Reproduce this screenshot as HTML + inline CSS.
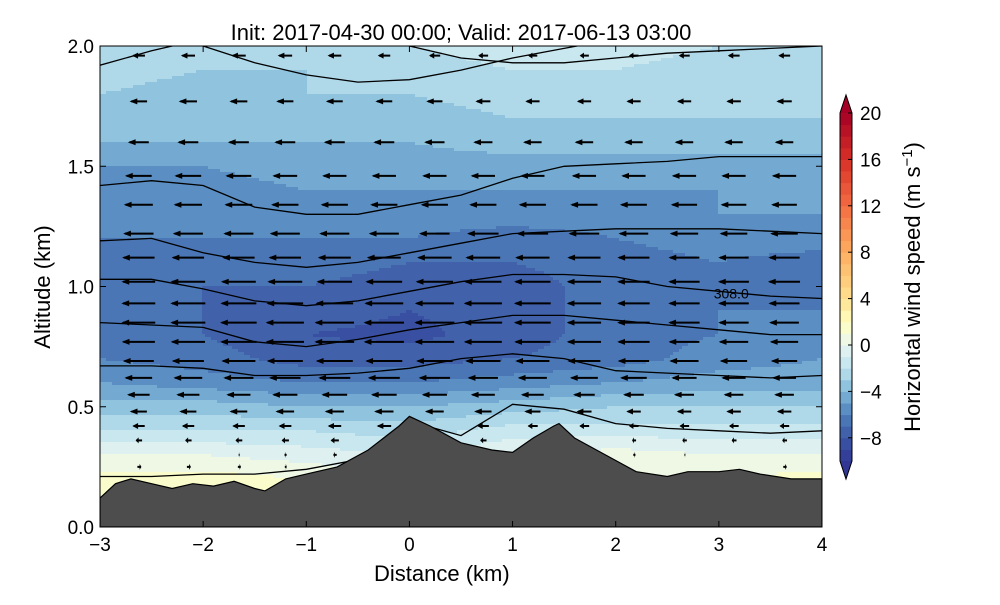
<!DOCTYPE html>
<html><head><meta charset="utf-8">
<style>
body{margin:0;background:#fff;}
svg text{font-family:"Liberation Sans",sans-serif;fill:#000;}
</style></head>
<body>
<svg id="chart" width="1000" height="600" viewBox="0 0 1000 600">
<defs><clipPath id="plotclip"><rect x="100" y="46" width="722" height="481"/></clipPath></defs>
<text x="461" y="40" font-size="22" text-anchor="middle">Init: 2017-04-30 00:00; Valid: 2017-06-13 03:00</text>
<g id="fill" clip-path="url(#plotclip)"></g>
<g id="contours" clip-path="url(#plotclip)"></g>
<g id="arrows" clip-path="url(#plotclip)"></g>
<g id="terrain" clip-path="url(#plotclip)"></g>
<rect x="100" y="46" width="722" height="481" fill="none" stroke="#000" stroke-width="1"/>
<g id="axes"></g>
<g id="cbar"></g>
<text x="374" y="581" font-size="22">Distance (km)</text>
<text transform="translate(50,287) rotate(-90)" font-size="22" text-anchor="middle">Altitude (km)</text>
<text transform="translate(920,287) rotate(-90)" font-size="22" text-anchor="middle">Horizontal wind speed (m s<tspan dy="-8" font-size="15">−1</tspan><tspan dy="8">)</tspan></text>
</svg>
<script>
const gridX=[-3,-2,-1,0,1,2,3,4];
const gridAlt=[0.1,0.2,0.3,0.4,0.5,0.6,0.7,0.8,0.9,1.0,1.1,1.2,1.3,1.4,1.5,1.6,1.7,1.8,1.9,2.0];
const speedRows=[
[1.5,1.5,1.5,1.0,1.5,1.5,1.5,1.5],
[1.5,1.5,1,0,1,1,1,1.5],
[0,0,-0.5,-1,0,0.5,0,0],
[-2,-2,-2,-2.5,-1.5,-1.5,-1.5,-1.5],
[-3.5,-3.5,-4,-4,-3.5,-3,-3,-3],
[-5,-5.5,-6,-6,-5.5,-5,-4.5,-4.5],
[-6,-6.5,-7.5,-7.5,-7,-6.5,-5.5,-5],
[-6.5,-7,-8,-8.3,-7.5,-6.5,-6,-5.5],
[-6.5,-7,-7.5,-8,-7.5,-6.5,-6,-6],
[-6.5,-7,-7,-7.5,-7.5,-6.5,-6,-6.5],
[-6.5,-6.5,-6.5,-7,-7,-6.5,-6,-6.5],
[-6,-6,-6,-6,-6.5,-6,-5.5,-5.5],
[-6,-5.5,-5.5,-5.5,-5.5,-5.5,-5,-5],
[-5.5,-5.5,-5,-5,-5,-5,-5,-5],
[-5,-5,-4.5,-4.5,-4.5,-4.5,-4.5,-4.5],
[-4,-4,-4,-4,-3.5,-3.5,-3.5,-3.5],
[-3.5,-3.5,-3.5,-3.5,-3,-3,-3,-3],
[-3,-3.5,-3,-3,-2.5,-2.5,-2.5,-3],
[-2.5,-3,-3,-2.5,-2,-2,-2.5,-2.5],
[-2,-2.5,-2.5,-2,-1.5,-1.5,-2,-2]];
const terrainX=[-3,-2.85,-2.7,-2.5,-2.3,-2.1,-1.9,-1.7,-1.5,-1.4,-1.2,-1,-0.7,-0.4,-0.1,0,0.2,0.5,0.8,1,1.2,1.4,1.45,1.6,1.9,2.2,2.5,2.7,3,3.2,3.4,3.7,4];
const terrainAlt=[0.12,0.18,0.2,0.18,0.16,0.18,0.17,0.19,0.16,0.15,0.2,0.22,0.25,0.32,0.42,0.46,0.42,0.35,0.32,0.31,0.37,0.42,0.43,0.37,0.3,0.23,0.21,0.23,0.23,0.24,0.22,0.2,0.2];
const contourX=[-3,-2.5,-2,-1.5,-1,-0.5,0,0.5,1,1.5,2,2.5,3,3.5,4];
const contourLines=[
[1.92,1.98,2.03,2.06,2.08,2.1,2.1,2.1,2.1,2.1,2.1,2.1,2.1,2.1,2.1],
[2.1,2.08,2.0,1.93,1.88,1.85,1.86,1.9,1.95,1.99,2.03,2.06,2.08,2.1,2.1],
[2.2,2.2,2.2,2.2,2.1,2.05,2.0,1.95,1.93,1.93,1.95,1.97,1.98,1.99,2.0],
[1.42,1.44,1.42,1.33,1.30,1.30,1.34,1.38,1.45,1.50,1.51,1.52,1.54,1.54,1.54],
[1.19,1.20,1.14,1.10,1.08,1.10,1.14,1.18,1.22,1.23,1.24,1.24,1.24,1.23,1.22],
[1.03,1.03,0.99,0.94,0.92,0.94,0.98,1.02,1.05,1.05,1.04,1.00,0.98,0.96,0.95],
[0.85,0.84,0.83,0.77,0.75,0.78,0.82,0.85,0.88,0.88,0.86,0.84,0.82,0.80,0.80],
[0.67,0.67,0.66,0.63,0.63,0.64,0.66,0.70,0.72,0.70,0.65,0.64,0.63,0.62,0.63],
[0.21,0.21,0.22,0.22,0.24,0.28,0.44,0.38,0.51,0.49,0.43,0.41,0.40,0.39,0.40]];
const contourLabel="308.0";
const xTicks=[-3,-2,-1,0,1,2,3,4];
const xTickLabels=["−3","−2","−1","0","1","2","3","4"];
const yTicks=[0,0.5,1.0,1.5,2.0];
const yTickLabels=["0.0","0.5","1.0","1.5","2.0"];
const cbarTicks=[-8,-4,0,4,8,12,16,20];
const cbarTickLabels=["−8","−4","0","4","8","12","16","20"];
const arrowX=[-2.62,-2.14,-1.65,-1.2,-0.72,-0.24,0.25,0.72,1.2,1.7,2.18,2.67,3.15,3.64];
const arrowAlt=[1.96,1.77,1.6,1.46,1.34,1.22,1.12,1.02,0.93,0.85,0.77,0.69,0.62,0.55,0.48,0.42,0.36,0.30,0.25];

const NS="http://www.w3.org/2000/svg";
const X0=100,X1=822,Y0=527,Y1=46;
const sx=v=>X0+(v-(-3))/7*(X1-X0);
const sy=v=>Y0-(v/2)*(Y0-Y1);
const cy=v=>461-(v+10)/30*(461-113);
function mk(t,a,p){const e=document.createElementNS(NS,t);for(const k in a)e.setAttribute(k,a[k]);p.appendChild(e);return e;}
const stops=[[-10,[49,54,149]],[-8,[60,88,166]],[-6,[78,128,187]],[-4,[128,184,216]],[-2,[190,226,238]],[0,[232,245,240]],[1,[244,250,215]],[2,[255,255,191]],[4,[254,224,144]],[8,[253,174,97]],[12,[244,109,67]],[16,[215,48,39]],[20,[165,0,38]]];
function col(v){v=Math.max(-10,Math.min(20,v));for(let i=0;i<stops.length-1;i++){const a=stops[i],b=stops[i+1];if(v<=b[0]){const t=(v-a[0])/(b[0]-a[0]);const c=a[1].map((q,j)=>Math.round(q+(b[1][j]-q)*t));return `rgb(${c})`;}}return "rgb(165,0,38)";}
function field(x,al){
  let i=Math.max(0,Math.min(gridX.length-2,Math.floor(x-gridX[0])));
  let tx=(x-gridX[i])/(gridX[i+1]-gridX[i]);tx=Math.max(0,Math.min(1,tx));
  let j=0;while(j<gridAlt.length-2&&al>gridAlt[j+1])j++;
  let ty=(al-gridAlt[j])/(gridAlt[j+1]-gridAlt[j]);ty=Math.max(0,Math.min(1,ty));
  const r=speedRows;
  const a=r[j][i]*(1-tx)+r[j][i+1]*tx,b=r[j+1][i]*(1-tx)+r[j+1][i+1]*tx;
  return a*(1-ty)+b*ty;
}
const fg=document.getElementById('fill');const step=3;
function band(x0,x1,y,lev){
  const r=mk('rect',{x:x0,y:y,width:x1-x0+0.5,height:step+0.5,fill:col(lev+0.5)},fg);
  
  
}
for(let py=Y1;py<Y0;py+=step){
  const al=(Y0-(py+step/2))/(Y0-Y1)*2;
  let runStart=X0,runLev=null;
  for(let px=X0;px<X1;px+=step){
    const x=-3+(px+step/2-X0)/(X1-X0)*7;const lev=Math.floor(field(x,al));
    if(lev!==runLev){
      if(runLev!==null)band(runStart,px,py,runLev);
      runStart=px;runLev=lev;}
  }
  if(runLev!==null)band(runStart,X1,py,runLev);
}
const cg=document.getElementById('contours');
contourLines.forEach((ln,k)=>{
  const d=ln.map((a,i)=>(i?'L':'M')+sx(contourX[i]).toFixed(1)+','+sy(a).toFixed(1)).join(' ');
  const p=mk('path',{d:d,fill:'none',stroke:'#000','stroke-width':1.3},cg);
  
  
});
const lbl=mk('text',{x:sx(3.12),y:sy(0.97)+5,'font-size':14,'text-anchor':'middle'},cg);
lbl.textContent=contourLabel;


function terr(x){for(let i=0;i<terrainX.length-1;i++){if(x<=terrainX[i+1]){const t=(x-terrainX[i])/(terrainX[i+1]-terrainX[i]);return terrainAlt[i]+(terrainAlt[i+1]-terrainAlt[i])*t;}}return terrainAlt[terrainAlt.length-1];}
const ag=document.getElementById('arrows');
arrowAlt.forEach(al=>{arrowX.forEach(x=>{
  if(al<terr(x)+0.03)return;
  const u=field(x,al);const L=u*4.8;const cx=sx(x),cyy=sy(al);
  const x1=cx-L/2,x2=cx+L/2;
  const g=mk('g',{},ag);
  
  
  mk('line',{x1:x1,y1:cyy,x2:x2,y2:cyy,stroke:'#000','stroke-width':2},g);
  const dir=Math.sign(L)||1;const hl=Math.min(6,Math.abs(L)*0.4);
  mk('path',{d:`M${x2+dir*hl*0.3},${cyy} L${x2-dir*hl},${cyy-3} L${x2-dir*hl},${cyy+3}Z`,fill:'#000'},g);
});});
const tg=document.getElementById('terrain');
let td='M'+X0+','+Y0+' '+terrainX.map((x,i)=>'L'+sx(x).toFixed(1)+','+sy(terrainAlt[i]).toFixed(1)).join(' ')+' L'+X1+','+Y0+'Z';
const tp=mk('path',{d:td,fill:'#4d4d4d',stroke:'#000','stroke-width':1.2},tg);


const ax=document.getElementById('axes');
xTicks.forEach((v,i)=>{const x=sx(v);
  mk('line',{x1:x,y1:Y0,x2:x,y2:Y0-6,stroke:'#000'},ax);mk('line',{x1:x,y1:Y1,x2:x,y2:Y1+6,stroke:'#000'},ax);
  const t=mk('text',{x:x,y:Y0+24,'font-size':19,'text-anchor':'middle'},ax);t.textContent=xTickLabels[i];
  
  });
yTicks.forEach((v,i)=>{const y=sy(v);
  mk('line',{x1:X0,y1:y,x2:X0+6,y2:y,stroke:'#000'},ax);mk('line',{x1:X1,y1:y,x2:X1-6,y2:y,stroke:'#000'},ax);
  const t=mk('text',{x:X0-6,y:y+7,'font-size':19,'text-anchor':'end'},ax);t.textContent=yTickLabels[i];
  
  });
const cb=document.getElementById('cbar');const CX=840,CW=12;
for(let v=-10;v<20;v++){const r=mk('rect',{x:CX,y:cy(v+1),width:CW,height:cy(v)-cy(v+1)+0.5,fill:col(v+0.5)},cb);
  
  }
mk('path',{d:`M${CX},${cy(20)} L${CX+CW/2},${cy(20)-18} L${CX+CW},${cy(20)}Z`,fill:col(20)},cb);
mk('path',{d:`M${CX},${cy(-10)} L${CX+CW/2},${cy(-10)+18} L${CX+CW},${cy(-10)}Z`,fill:col(-10)},cb);
mk('path',{d:`M${CX},${cy(-10)} L${CX},${cy(20)} L${CX+CW/2},${cy(20)-18} L${CX+CW},${cy(20)} L${CX+CW},${cy(-10)} L${CX+CW/2},${cy(-10)+18}Z`,fill:'none',stroke:'#000'},cb);
cbarTicks.forEach((v,i)=>{const y=cy(v);
  mk('line',{x1:CX+CW-4,y1:y,x2:CX+CW,y2:y,stroke:'#000'},cb);
  const t=mk('text',{x:CX+CW+8,y:y+7,'font-size':19},cb);t.textContent=cbarTickLabels[i];
  
  });
</script>
</body></html>
